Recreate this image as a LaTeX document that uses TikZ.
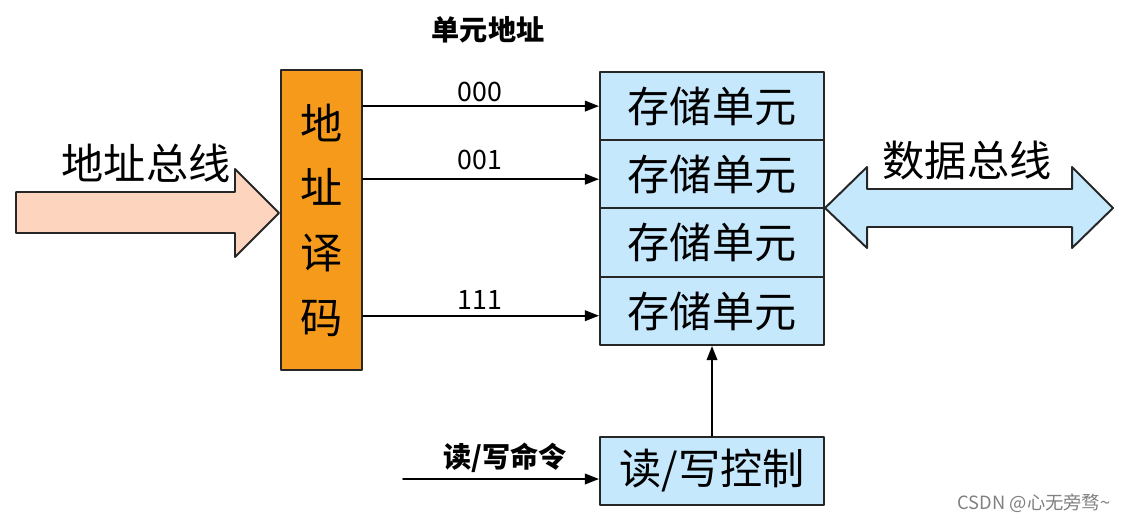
\documentclass[tikz,border=0pt]{standalone}
\usepackage{fontspec}
\setmainfont{Noto Sans CJK SC}
\usepackage{xcolor}
\usetikzlibrary{arrows.meta}

\definecolor{peach}{HTML}{FDD5BF}
\definecolor{decorange}{HTML}{F59A1A}
\definecolor{cellblue}{HTML}{C5E8FD}
\definecolor{edge}{HTML}{262626}

\tikzset{
  cell/.style={draw=edge, line width=1.4pt, fill=cellblue, minimum width=5.6cm,
    minimum height=1.706cm, inner sep=0pt, font=\fontsize{30}{30}\selectfont},
  decoder/.style={draw=edge, line width=1.4pt, fill=decorange, minimum width=2.025cm,
    minimum height=7.5cm, inner sep=0pt, align=center, font=\fontsize{30}{46}\selectfont},
  busarrow/.style={draw=edge, line width=1.4pt},
  wire/.style={line width=1.3pt, -{Triangle[length=10pt,width=7.5pt]}},
  addr/.style={font=\fontsize{19}{19}\selectfont},
  tag/.style={font=\bfseries\fontsize{20}{20}\selectfont}
}

\begin{document}
\begin{tikzpicture}[x=0.025cm, y=-0.025cm, line cap=round, line join=round]
\useasboundingbox (0,0) rectangle (1128,521);

% address bus arrow
\draw[busarrow, fill=peach] (16,192) -- (235,192) -- (235,169) -- (279,213)
  -- (235,257) -- (235,233) -- (16,233) -- cycle;
\node (abus) at (146,163) {\fontsize{30}{30}\selectfont 地址总线};

% decoder
\node[decoder] (dec) at (321.5,220) {地\\址\\译\\码};

% storage cells
\node[cell] (c1) at (712,106.1) {存储单元};
\node[cell] (c2) at (712,174.4) {存储单元};
\node[cell] (c3) at (712,242.6) {存储单元};
\node[cell] (c4) at (712,310.9) {存储单元};

% unit address lines
\node[tag] (unit) at (488,30) {单元地址};
\coordinate (in1) at (c1.west);
\coordinate (in2) at ([yshift=-0.12cm]c2.west);
\coordinate (in4) at ([yshift=-0.12cm]c4.west);
\draw[wire] (dec.east |- in1) -- (in1);
\draw[wire] (dec.east |- in2) -- (in2);
\draw[wire] (dec.east |- in4) -- (in4);
\node[addr] (a0) at (480,92) {000};
\node[addr] (a1) at (480,160) {001};
\node[addr] (a7) at (480,300) {111};

% data bus arrow
\draw[busarrow, fill=cellblue] (825,208) -- (867,167) -- (867,189) -- (1072,189)
  -- (1072,167) -- (1113,208) -- (1072,248) -- (1072,227) -- (867,227)
  -- (867,248) -- cycle;
\node (dbus) at (967,160) {\fontsize{30}{30}\selectfont 数据总线};

% read/write control
\node[cell, minimum height=1.7cm] (ctl) at (712,471) {读/写控制};
\draw[wire] (ctl.north) -- (c4.south);
\coordinate (cmd) at (403,479);
\draw[wire] (cmd) -- (ctl.west |- cmd);
\node[tag] (cmdlbl) at (505,458) {读/写命令};

\node[text=gray, font=\fontsize{13}{13}\selectfont] (wm) at (1034,503) {CSDN @心无旁骛\textasciitilde};
\end{tikzpicture}
\end{document}
